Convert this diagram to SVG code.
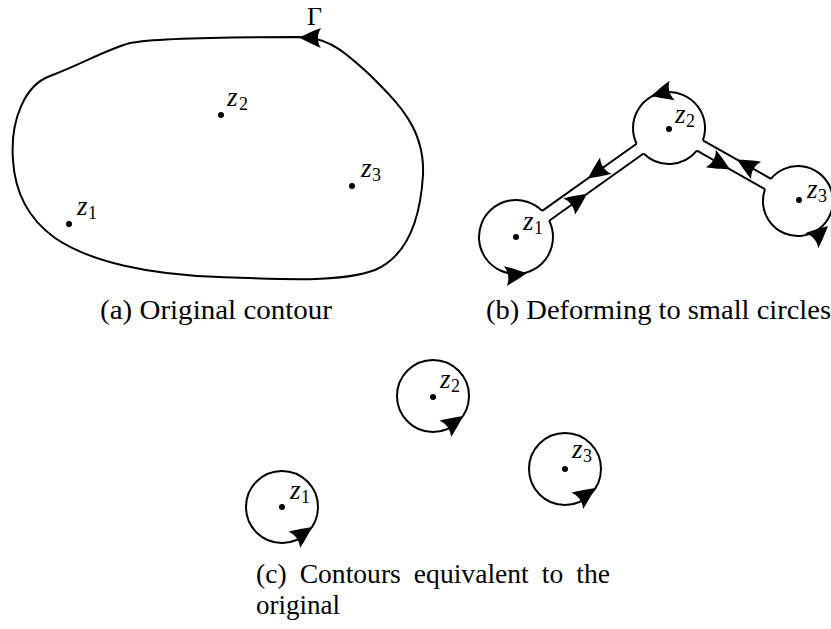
<svg xmlns="http://www.w3.org/2000/svg" width="831" height="629" viewBox="0 0 831 629">
<style>
.ln{fill:none;stroke:#000;stroke-width:2}
.dot{fill:#000}
.zi{font-family:"Liberation Serif","Times New Roman",serif;font-style:italic;font-size:27px;fill:#000}
.sub{font-family:"Liberation Serif","Times New Roman",serif;font-size:18px;fill:#000}
.cap{font-family:"Liberation Serif","Times New Roman",serif;font-size:27px;fill:#000}
</style>
<defs>
<path id="ah" d="M0,0 C-6,-3 -15,-7.5 -22,-10 C-18,-4 -18,4 -22,10 C-15,7.5 -6,3 0,0 Z" fill="#000"/>
</defs>
<rect width="831" height="629" fill="#fff"/>
<g id="connectors">
<path class="ln" d="M299,37 C250,37 160,37 130,43 C105,50 80,65 50,76 C25,85 10,120 13,160 C15,195 30,220 55,238 C90,262 150,275 220,277 C280,279 340,283 375,270 C405,257 420,225 423,175 C425,130 400,105 370,75 C345,52 330,40 310,38 Z"/>
<use href="#ah" transform="translate(299,37.5) rotate(181)"/>
<line class="ln" x1="542.2" y1="210.9" x2="636.6" y2="143.7"/>
<line class="ln" x1="549.2" y1="220.7" x2="643.6" y2="153.5"/>
<line class="ln" x1="702.9" y1="140.3" x2="770.9" y2="178.8"/>
<line class="ln" x1="696.9" y1="150.7" x2="765.0" y2="189.2"/>
<use href="#ah" transform="translate(588,178.3) rotate(144.5)"/>
<use href="#ah" transform="translate(587,193.8) rotate(-35.5)"/>
<use href="#ah" transform="translate(730,169.4) rotate(29.5)"/>
<use href="#ah" transform="translate(737,159.6) rotate(209.5)"/>
</g>
<g id="panel-a">
<text x="307" y="25" font-family="Liberation Serif, serif" font-size="26">Γ</text>
<g id="a-z1"><circle class="dot" cx="69" cy="224" r="3"/><text class="zi" x="77" y="215">z</text><text class="sub" x="88" y="219">1</text></g>
<g id="a-z2"><circle class="dot" cx="221" cy="115" r="3"/><text class="zi" x="227" y="106">z</text><text class="sub" x="239" y="110">2</text></g>
<g id="a-z3"><circle class="dot" cx="352" cy="186" r="3"/><text class="zi" x="361" y="177">z</text><text class="sub" x="372" y="181">3</text></g>
<text class="cap" x="100" y="319" textLength="232" lengthAdjust="spacingAndGlyphs">(a) Original contour</text>
</g>
<g id="panel-b">
<g id="b-z1"><path class="ln" d="M542.2,210.9 A37,37 0 1 0 549.2,220.7"/><circle class="dot" cx="516" cy="237" r="3"/><text class="zi" x="523" y="230">z</text><text class="sub" x="534" y="234">1</text><use href="#ah" transform="translate(527,273) rotate(-8)"/></g>
<g id="b-z2"><path class="ln" d="M636.6,143.7 A36,36 0 1 1 702.9,140.3"/><path class="ln" d="M643.6,153.5 A36,36 0 0 0 696.9,150.7"/><circle class="dot" cx="669" cy="129" r="3"/><text class="zi" x="675" y="123">z</text><text class="sub" x="686" y="127">2</text><use href="#ah" transform="translate(651,96) rotate(165)"/></g>
<g id="b-z3"><path class="ln" d="M765.0,189.2 A35,35 0 1 0 770.9,178.8"/><circle class="dot" cx="799" cy="200" r="3"/><text class="zi" x="807" y="198">z</text><text class="sub" x="818" y="202">3</text><use href="#ah" transform="translate(828,226) rotate(-42)"/></g>
<text class="cap" x="486" y="319" textLength="345" lengthAdjust="spacingAndGlyphs">(b) Deforming to small circles</text>
</g>
<g id="panel-c">
<g id="c-z1"><circle class="ln" cx="282" cy="507" r="36"/><circle class="dot" cx="282" cy="507" r="3"/><text class="zi" x="290" y="499">z</text><text class="sub" x="301" y="503">1</text><use href="#ah" transform="translate(312,527) rotate(-36)"/></g>
<g id="c-z2"><circle class="ln" cx="433" cy="396" r="36"/><circle class="dot" cx="433" cy="397" r="3"/><text class="zi" x="440" y="388">z</text><text class="sub" x="451" y="392">2</text><use href="#ah" transform="translate(463,416) rotate(-36)"/></g>
<g id="c-z3"><circle class="ln" cx="565" cy="469" r="36"/><circle class="dot" cx="565" cy="469" r="3"/><text class="zi" x="572" y="458">z</text><text class="sub" x="583" y="462">3</text><use href="#ah" transform="translate(595,488) rotate(-36)"/></g>
<text class="cap" x="256" y="583" word-spacing="6" textLength="354" lengthAdjust="spacingAndGlyphs">(c) Contours equivalent to the</text>
<text class="cap" x="256" y="614">original</text>
</g>
</svg>
